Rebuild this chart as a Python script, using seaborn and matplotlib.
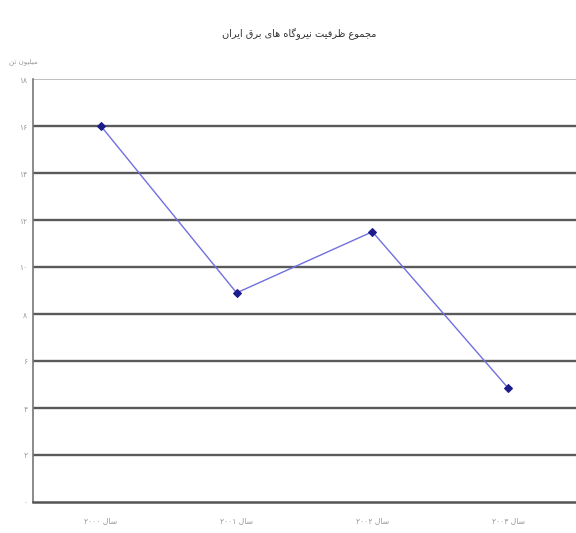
import matplotlib
matplotlib.use("Agg")
import matplotlib.pyplot as plt
import seaborn as sns
import pandas as pd

# ---- data -------------------------------------------------------------
years = ["سال ۲۰۰۰", "سال ۲۰۰۱", "سال ۲۰۰۲", "سال ۲۰۰۳"]
values = [16.0, 8.9, 11.5, 4.85]
y_ticks = [0, 2, 4, 6, 8, 10, 12, 14, 16, 18]
title_text = "مجموع ظرفیت نیروگاه های برق ایران"
unit_text = "میلیون تن"

# ---- minimal Arabic-script shaping (matplotlib has no text shaping) ---
FORMS = {
    "ا": (0xFE8D, 0xFE8E, None, None), "آ": (0xFE81, 0xFE82, None, None),
    "ب": (0xFE8F, 0xFE90, 0xFE91, 0xFE92), "ت": (0xFE95, 0xFE96, 0xFE97, 0xFE98),
    "ج": (0xFE9D, 0xFE9E, 0xFE9F, 0xFEA0), "د": (0xFEA9, 0xFEAA, None, None),
    "ر": (0xFEAD, 0xFEAE, None, None), "ز": (0xFEAF, 0xFEB0, None, None),
    "س": (0xFEB1, 0xFEB2, 0xFEB3, 0xFEB4), "ظ": (0xFEC5, 0xFEC6, 0xFEC7, 0xFEC8),
    "ع": (0xFEC9, 0xFECA, 0xFECB, 0xFECC), "ف": (0xFED1, 0xFED2, 0xFED3, 0xFED4),
    "ق": (0xFED5, 0xFED6, 0xFED7, 0xFED8), "ل": (0xFEDD, 0xFEDE, 0xFEDF, 0xFEE0),
    "م": (0xFEE1, 0xFEE2, 0xFEE3, 0xFEE4), "ن": (0xFEE5, 0xFEE6, 0xFEE7, 0xFEE8),
    "ه": (0xFEE9, 0xFEEA, 0xFEEB, 0xFEEC), "و": (0xFEED, 0xFEEE, None, None),
    "ی": (0xFBFC, 0xFBFD, 0xFBFE, 0xFBFF), "گ": (0xFB92, 0xFB93, 0xFB94, 0xFB95),
    "ک": (0xFB8E, 0xFB8F, 0xFB90, 0xFB91),
}


def joins_left(ch):
    return ch in FORMS and FORMS[ch][2] is not None


def shape_word(word):
    out = []
    for i, ch in enumerate(word):
        if ch not in FORMS:
            out.append(ch)
            continue
        prev_j = i > 0 and joins_left(word[i - 1])
        next_j = i + 1 < len(word) and word[i + 1] in FORMS and joins_left(ch)
        iso, fin, ini, med = FORMS[ch]
        if prev_j and next_j:
            code = med
        elif prev_j:
            code = fin
        elif next_j:
            code = ini
        else:
            code = iso
        out.append(chr(code))
    return "".join(out)


def rtl(text):
    words = text.split(" ")
    shaped = []
    for w in words:
        if all(c in "۰۱۲۳۴۵۶۷۸۹" for c in w):
            shaped.append(w)
        else:
            shaped.append(shape_word(w)[::-1])
    return " ".join(reversed(shaped))


def fa_digits(n):
    return str(n).translate(str.maketrans("0123456789", "۰۱۲۳۴۵۶۷۸۹"))


# ---- figure -----------------------------------------------------------
sns.set_theme(style="white")
plt.rcParams["font.family"] = ["DejaVu Sans"]

fig = plt.figure(figsize=(5.76, 5.33), dpi=100)
ax = fig.add_axes([33 / 576, 31 / 533, 1 - 33 / 576, 423 / 533])

df = pd.DataFrame({"year": [rtl(y) for y in years], "value": values})

for t in y_ticks[1:-1]:
    ax.axhline(t, color="#5a5a5a", lw=1.7, zorder=1)
ax.axhline(y_ticks[-1], color="#b5b5b5", lw=1.2, zorder=1)

sns.lineplot(data=df, x="year", y="value", ax=ax, sort=False,
             color="#7070e0", lw=1.0, marker="D", markersize=4.5,
             markerfacecolor="#1c1c8a", markeredgecolor="#1c1c8a", zorder=3)

ax.set_xlim(-0.5, 3.5)
ax.set_ylim(0, 18)
ax.set_yticks(y_ticks)
ax.set_yticklabels([fa_digits(t) for t in y_ticks], fontsize=5.5, color="#999999")
ax.tick_params(axis="x", labelsize=5.5, labelcolor="#999999", pad=10, length=0)
ax.tick_params(axis="y", pad=4, length=0)
ax.set_xlabel("")
ax.set_ylabel("")

for side in ["top", "right"]:
    ax.spines[side].set_visible(False)
ax.spines["left"].set_color("#777777")
ax.spines["left"].set_linewidth(1.2)
ax.spines["bottom"].set_color("#555555")
ax.spines["bottom"].set_linewidth(1.8)

fig.text(0.52, 0.937, rtl(title_text), ha="center", va="center",
         fontsize=7, color="#333333")
fig.text(0.04, 0.885, rtl(unit_text), ha="center", va="center",
         fontsize=5, color="#999999")

fig.savefig("out.png", dpi=100, facecolor="white")
